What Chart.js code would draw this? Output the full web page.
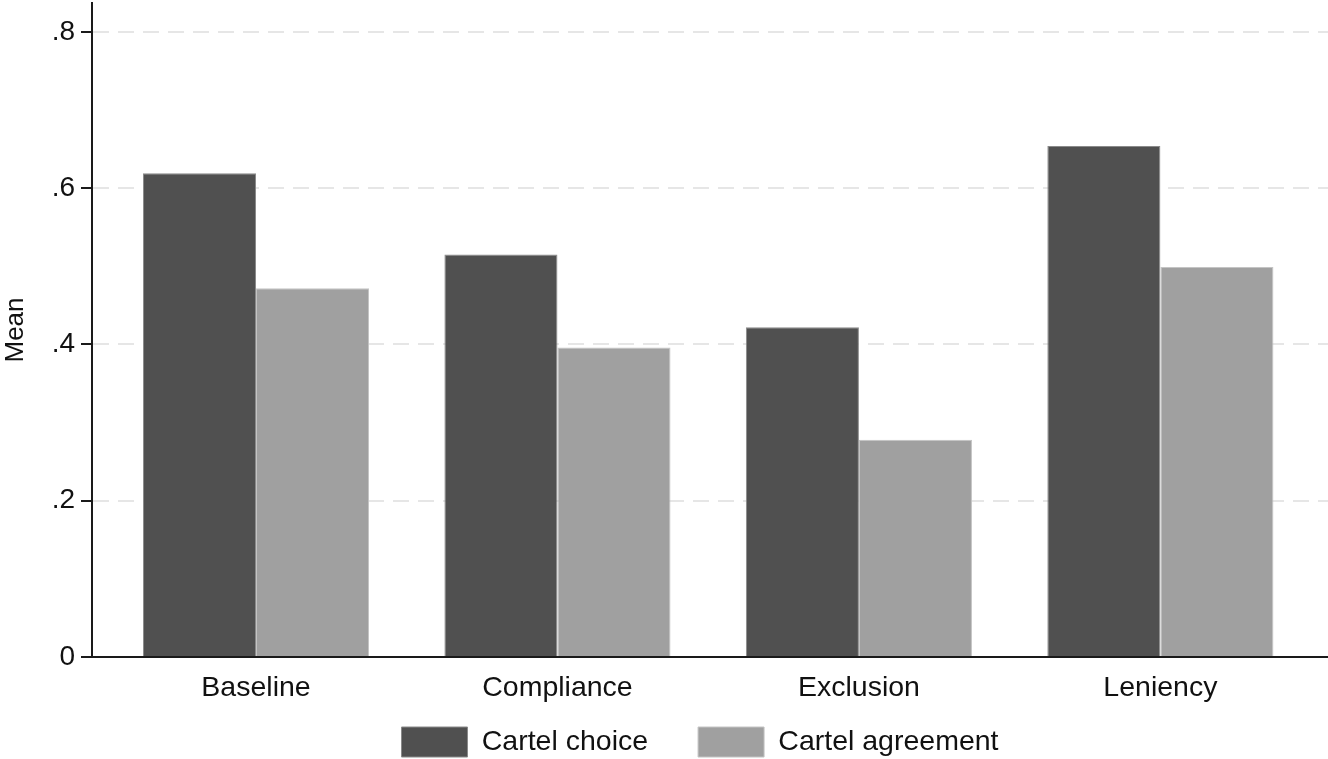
<!DOCTYPE html>
<html>
<head>
<meta charset="utf-8">
<script src="https://cdn.jsdelivr.net/npm/chart.js@4/dist/chart.umd.min.js"></script>
<style>
  html, body { margin: 0; padding: 0; background: #fff; }
  #wrap { width: 1328px; height: 759px; position: relative; }
</style>
</head>
<body>
<div id="wrap"><canvas id="c"></canvas></div>
<script>
// Daten
const categories = ['Baseline', 'Compliance', 'Exclusion', 'Leniency'];
const cartelChoice = [0.619, 0.515, 0.422, 0.654];
const cartelAgreement = [0.472, 0.396, 0.278, 0.499];
const yTicks = [0, 0.2, 0.4, 0.6, 0.8];
const yTickLabels = ['0', '.2', '.4', '.6', '.8'];

const FONT = 'Liberation Sans, Arial, sans-serif';
const LEGEND_H = 54;

// Werte an Kategorie-Index binden
const toPoints = arr => arr.map((v, i) => ({ x: i, y: v }));

// Legende: breiter Abstand zwischen Einträgen, aber flach halten
const legendFit = {
    id: 'legendFit',
    beforeInit(chart) {
        const lg = chart.legend;
        if (!lg) return;
        lg._computeTitleHeight = () => -28;
        const orig = lg.fit;
        lg.fit = function () {
            orig.call(this);
            this.height = LEGEND_H;
            this.lineWidths = this.lineWidths.map(w => w + 20);
        };
    }
};

const ctx = document.getElementById('c').getContext('2d');
new Chart(ctx, {
    type: 'bar',
    data: {
        datasets: [{
            label: 'Cartel choice',
            data: toPoints(cartelChoice),
            backgroundColor: '#505050',
            borderColor: '#8a8a8a',
            borderWidth: 1,
            categoryPercentage: 0.75,
            barPercentage: 1.0
        }, {
            label: 'Cartel agreement',
            data: toPoints(cartelAgreement),
            backgroundColor: '#a0a0a0',
            borderColor: '#c4c4c4',
            borderWidth: 1,
            categoryPercentage: 0.75,
            barPercentage: 1.0
        }]
    },
    options: {
        responsive: true,
        maintainAspectRatio: false,
        animation: false,
        layout: { padding: { top: 3, right: 0, left: 0, bottom: 0 } },
        scales: {
            x: {
                type: 'linear',
                offset: false,
                min: -0.544,
                max: 3.556,
                afterBuildTicks: s => { s.ticks = categories.map((c, i) => ({ value: i })); },
                afterFit: s => {
                    s.height = 759 - LEGEND_H - 657;
                    s.paddingLeft = 0; s.paddingRight = 0;
                },
                grid: { display: false },
                border: { display: true, color: '#1a1a1a', width: 2 },
                ticks: {
                    callback: v => categories[v],
                    color: '#111',
                    font: { family: FONT, size: 28.5 },
                    padding: 6,
                    maxRotation: 0
                }
            },
            y: {
                min: 0,
                max: 0.837,
                afterBuildTicks: s => { s.ticks = yTicks.map(v => ({ value: v })); },
                afterFit: s => {
                    s.width = 92;
                    s.paddingTop = 0; s.paddingBottom = 0;
                },
                title: {
                    display: true,
                    text: 'Mean',
                    color: '#111',
                    font: { family: FONT, size: 26 },
                    padding: { top: 0, bottom: 0 }
                },
                grid: {
                    color: ctx => ctx.tick && ctx.tick.value === 0 ? 'rgba(0,0,0,0)' : '#e6e6e6',
                    lineWidth: 2,
                    tickColor: '#1a1a1a',
                    tickLength: 11,
                    tickWidth: 2
                },
                border: { display: true, color: '#1a1a1a', width: 2, dash: [16, 9] },
                ticks: {
                    callback: (v, i) => yTickLabels[yTicks.indexOf(v)],
                    color: '#111',
                    font: { family: FONT, size: 28 },
                    padding: 6
                }
            }
        },
        plugins: {
            legend: {
                position: 'bottom',
                fullSize: false,
                labels: {
                    boxWidth: 66,
                    boxHeight: 30,
                    color: '#111',
                    font: { family: FONT, size: 28.5 },
                    padding: 50,
                    useBorderRadius: false
                }
            },
            tooltip: { enabled: false }
        }
    },
    plugins: [legendFit]
});
</script>
</body>
</html>
